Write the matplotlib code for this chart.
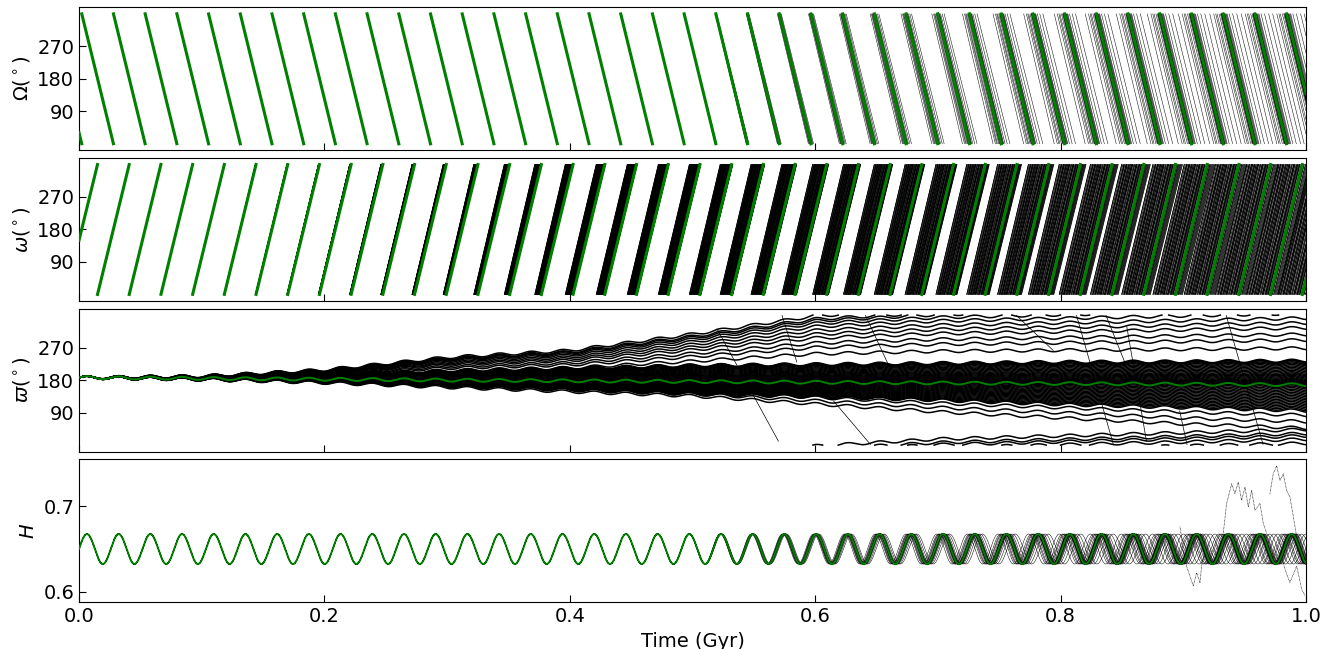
import numpy as np
import matplotlib
matplotlib.use('Agg')
import matplotlib.pyplot as plt

# nominal orbit (green): nodal period and starting angles
nodal_period = 0.02584          # Gyr
node_start = 31.0               # deg
peri_start = 150.0              # deg
H_mean, H_amp = 0.650, 0.0175
varpi_wiggle = 4.0              # deg
varpi_mean_t = [0.0, 0.3, 0.65, 1.0]
varpi_mean_deg = [187, 180, 173, 167]

# how far the clones drift from the nominal orbit with time
env_t = [0.0, 0.1, 0.2, 0.3, 0.4, 0.5, 0.6, 0.7, 0.8, 0.9, 1.0]
node_env = [0, 0, 0, 0, 0, 4, 30, 70, 120, 150, 160]
peri_ahead = [0, 2, 12, 35, 90, 120, 160, 200, 240, 260, 280]
peri_behind = [0, 0, 0, 2, 5, 10, 20, 35, 60, 80, 100]
varpi_core_up = [0, 4, 15, 25, 35, 45, 50, 55, 60, 63, 67]
varpi_core_lo = [0, 3, 8, 15, 25, 35, 40, 48, 58, 65, 72]
varpi_tail_up = [0, 6, 25, 60, 80, 125, 175, 195, 205, 215, 225]
varpi_tail_lo = [0, 3, 10, 20, 30, 40, 60, 80, 95, 110, 120]

# clone offsets (fraction of the envelope)
core_varpi_u = [-1.0, -0.95, -0.89, -0.83, -0.77, -0.71, -0.65, -0.59, -0.53,
                -0.47, -0.41, -0.35, -0.29, -0.23, -0.17, -0.11, -0.06, -0.02,
                0.0, 0.03, 0.07, 0.11, 0.15, 0.19, 0.23, 0.28, 0.33, 0.38,
                0.43, 0.48, 0.54, 0.6, 0.66, 0.72, 0.78, 0.84, 0.89, 0.94,
                0.97, 1.0]
core_node_u = [0.01, -0.3, 0.03, -0.02, 0.06, 0.0, -0.04, 0.15, -0.015, 0.02,
               -0.08, 0.45, -0.01, 0.025, -0.12, 0.05, -0.03, 1.0, 0.015, -0.06,
               0.1, -0.025, 0.04, -0.2, 0.07, -0.05, 0.3, -0.07, 0.09, -0.7,
               0.005, -0.1, 0.2, -0.15, 0.12, -0.45, 0.7, -1.0, -0.02, 0.035]
core_peri_u = [0.05, 0.9, 0.3, -0.2, 0.6, 0.15, 0.75, 0.45, -0.5, 0.25,
               0.85, 0.1, 0.55, 0.35, -0.1, 0.7, 0.2, 0.95, 0.4, -0.8,
               0.5, 0.65, 0.0, 0.8, 0.3, -0.35, 1.0, 0.6, 0.12, -1.0,
               0.22, 0.42, 0.68, -0.05, 0.88, 0.52, 0.18, -0.6, 0.78, 0.33]
tail_varpi_u = [0.45, 0.55, 0.62, 0.7, 0.76, 0.82, 0.88, 0.93, 0.97, 1.0, 1.05,
                -0.7, -0.85, -1.0]
tail_node_u = [0.02, -0.04, 0.08, -0.01, 0.05, -0.09, 0.55, -0.03, 0.12,
               -0.06, 0.03, -0.25, 0.07, -0.02]
tail_peri_u = [0.2, 0.5, 0.8, -0.4, 1.0, 0.35, -0.7, 0.65, 0.1, 0.9, -0.2,
               0.55, 0.75, -0.9]

# clones whose varpi starts circulating
runaway_t0 = [0.52, 0.573, 0.615, 0.641, 0.764, 0.813, 0.837, 0.854, 0.897, 0.935]
runaway_v0 = [322, 359, 122, 359, 359, 359, 359, 327, 95, 359]
runaway_t1 = [0.57, 0.585, 0.645, 0.66, 0.794, 0.843, 0.854, 0.870, 0.903, 0.965]
runaway_v1 = [11, 230, 2, 220, 262, 2, 215, 11, 2, 2]

# chaotic excursions in H near the end
H_burst_t = [
    [0.9326, 0.9353, 0.9394, 0.9421, 0.9448, 0.9475, 0.9503, 0.9530, 0.9557,
     0.9584, 0.9625, 0.9652, 0.9679],
    [0.9706, 0.9733, 0.9761, 0.9788, 0.9815, 0.9842, 0.9869, 0.9897, 0.9924],
    [0.8973, 0.9000, 0.9027, 0.9054, 0.9082, 0.9109, 0.9136, 0.9149, 0.9177],
    [0.9788, 0.9829, 0.9869, 0.9924, 0.9965, 0.9992],
]
H_burst_val = [
    [0.6685, 0.7031, 0.7262, 0.7146, 0.7281, 0.7069, 0.7223, 0.6992, 0.7185,
     0.6954, 0.7031, 0.6800, 0.6685],
    [0.7146, 0.7377, 0.7473, 0.7300, 0.7377, 0.7185, 0.7108, 0.6877, 0.6646],
    [0.6762, 0.6492, 0.6300, 0.6185, 0.6069, 0.6223, 0.6108, 0.6300, 0.6492],
    [0.6492, 0.6262, 0.6108, 0.6300, 0.6031, 0.5954],
]


def wrap(x, deg):
    # angles in [0, 360) with breaks at the jumps
    d = np.mod(deg, 360)
    idx = np.where(np.abs(np.diff(d)) > 180)[0] + 1
    return np.insert(x, idx, np.nan), np.insert(d, idx, np.nan)


def spread(u, up, lo):
    env = np.interp(t, env_t, up if u >= 0 else lo)
    return u * env


t = np.linspace(0, 1, 24001)
phase = 360 * t / nodal_period
node_green = node_start - phase
peri_green = peri_start + phase
varpi_green = (np.interp(t, varpi_mean_t, varpi_mean_deg)
               + varpi_wiggle * np.sin(np.radians(phase)))
H_green = H_mean + H_amp * np.sin(np.radians(phase))

fig, axes = plt.subplots(4, 1, figsize=(13.37, 6.49), dpi=100, sharex=True)
fig.subplots_adjust(left=0.0591, right=0.9768, top=0.9888, bottom=0.072,
                    hspace=0.053)
axO, axw, axv, axH = axes

thin = dict(color='k', lw=0.35, zorder=1)
clones = ([(v, n, p, varpi_core_up, varpi_core_lo)
           for v, n, p in zip(core_varpi_u, core_node_u, core_peri_u)]
          + [(v, n, p, varpi_tail_up, varpi_tail_lo)
             for v, n, p in zip(tail_varpi_u, tail_node_u, tail_peri_u)])

for vu, nu, pu, vup, vlo in clones:
    node_off = nu * np.interp(t, env_t, node_env)
    axO.plot(*wrap(t, node_green - node_off), **thin)
    axH.plot(t, H_mean + H_amp * np.sin(np.radians(phase + node_off)), **thin)
    axw.plot(*wrap(t, peri_green + spread(pu, peri_ahead, peri_behind)),
             color='k', lw=0.55, zorder=1)
    axv.plot(*wrap(t, varpi_green + spread(vu, vup, vlo)),
             color='k', lw=1.1, zorder=1)

for a, b, c, d in zip(runaway_t0, runaway_v0, runaway_t1, runaway_v1):
    axv.plot([a, c], [b, d], color='k', lw=0.5, zorder=1)

for bt, bv in zip(H_burst_t, H_burst_val):
    axH.plot(bt, bv, color='k', lw=0.5, ls=(0, (1, 1)), zorder=1)

green = dict(color='green', zorder=3)
axO.plot(*wrap(t, node_green), lw=2.2, **green)
axw.plot(*wrap(t, peri_green), lw=2.2, **green)
axv.plot(t, varpi_green, lw=1.4, **green)
axH.plot(t, H_green, lw=1.4, **green)

for ax in (axO, axw, axv):
    ax.set_yticks([90, 180, 270])
axH.set_yticks([0.6, 0.7])

axO.set_ylabel(r'$\Omega(^\circ)$', fontsize=14)
axw.set_ylabel(r'$\omega(^\circ)$', fontsize=14)
axv.set_ylabel(r'$\varpi(^\circ)$', fontsize=14)
axH.set_ylabel(r'$H$', fontsize=14)
axH.set_xlabel('Time (Gyr)', fontsize=14)

axH.set_xlim(0, 1)
axH.set_xticks([0.0, 0.2, 0.4, 0.6, 0.8, 1.0])
for ax in axes:
    ax.tick_params(direction='in', labelsize=14, length=5)

fig.savefig('out.png', dpi=100)
